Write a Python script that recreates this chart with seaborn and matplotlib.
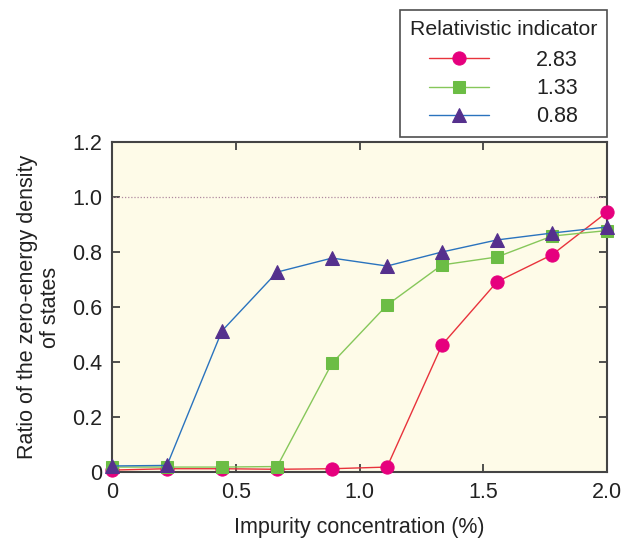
import numpy as np
import pandas as pd
import matplotlib
matplotlib.use("Agg")
import matplotlib.pyplot as plt
from matplotlib.legend_handler import HandlerLine2D
import seaborn as sns

concentration = [0.0, 0.222, 0.444, 0.667, 0.889, 1.111, 1.333, 1.556, 1.778, 2.0]
series_labels = ["2.83", "1.33", "0.88"]
ratio_283 = [0.007, 0.012, 0.012, 0.010, 0.012, 0.018, 0.462, 0.692, 0.790, 0.945]
ratio_133 = [0.018, 0.018, 0.018, 0.020, 0.396, 0.607, 0.753, 0.782, 0.858, 0.878]
ratio_088 = [0.022, 0.024, 0.513, 0.727, 0.778, 0.749, 0.800, 0.844, 0.869, 0.891]
x_ticks = [0, 0.5, 1.0, 1.5, 2.0]
x_ticklabels = ["0", "0.5", "1.0", "1.5", "2.0"]
y_ticks = [0, 0.2, 0.4, 0.6, 0.8, 1.0, 1.2]
y_ticklabels = ["0", "0.2", "0.4", "0.6", "0.8", "1.0", "1.2"]

sns.set_theme(style="white")
plt.rcParams["font.family"] = ["Liberation Sans", "DejaVu Sans"]

df = pd.DataFrame({
    "x": concentration * 3,
    "y": ratio_283 + ratio_133 + ratio_088,
    "series": [series_labels[0]] * 10 + [series_labels[1]] * 10 + [series_labels[2]] * 10,
})

fig = plt.figure(figsize=(6.33, 5.41), dpi=100)
ax = fig.add_axes([0.177, 0.1275, 0.782, 0.61])
ax.set_facecolor("#FEFBE8")

styles = {
    "2.83": dict(color="#E8333C", marker="o", mfc="#E6007E", ms=9.5),
    "1.33": dict(color="#86C75A", marker="s", mfc="#6CBD45", ms=9),
    "0.88": dict(color="#2A73BE", marker="^", mfc="#55308D", ms=9.5),
}
for lab in series_labels:
    st = styles[lab]
    sns.lineplot(data=df[df["series"] == lab], x="x", y="y", ax=ax,
                 color=st["color"], marker=st["marker"], markersize=st["ms"],
                 markerfacecolor=st["mfc"], markeredgecolor=st["mfc"],
                 linewidth=1.0, label=lab, clip_on=False, zorder=3)

ax.axhline(1.0, color="#B08AA0", linestyle=(0, (1, 1.5)), linewidth=0.9, zorder=1)

FS = 15.5
ax.set_xlim(0, 2.0)
ax.set_ylim(0, 1.2)
ax.set_xticks(x_ticks)
ax.set_xticklabels(x_ticklabels)
ax.set_yticks(y_ticks)
ax.set_yticklabels(y_ticklabels)
ax.tick_params(direction="in", length=6, width=1.2, color="#333333",
               labelsize=FS, labelcolor="#222222", top=True, right=True,
               bottom=True, left=True, pad=7)
for sp in ax.spines.values():
    sp.set_color("#444444")
    sp.set_linewidth(1.5)

ax.set_xlabel("Impurity concentration (%)", fontsize=FS, labelpad=10,
              color="#222222")
ax.set_ylabel("Ratio of the zero-energy density\nof states", fontsize=FS,
              labelpad=8, color="#222222", multialignment="center",
              linespacing=1.1)

handles, labels = ax.get_legend_handles_labels()
leg = ax.legend(handles, labels, title="Relativistic indicator", loc="upper right",
                bbox_to_anchor=(607 / 633, 1 - 10 / 541),
                bbox_transform=fig.transFigure,
                frameon=True, fancybox=False, fontsize=FS, title_fontsize=15.3,
                handlelength=3.67, handletextpad=2.2, borderpad=0.45,
                labelspacing=0.33, borderaxespad=0, alignment="left",
                handler_map={h: HandlerLine2D(xpad=0.88) for h in handles})
try:
    leg._legend_box.sep = leg._legend_box.sep + 3
except Exception:
    pass
leg.get_frame().set_edgecolor("#222222")
leg.get_frame().set_linewidth(1.2)
for t in leg.get_texts():
    t.set_color("#222222")
leg.get_title().set_color("#222222")

fig.savefig("out.png", dpi=100)
